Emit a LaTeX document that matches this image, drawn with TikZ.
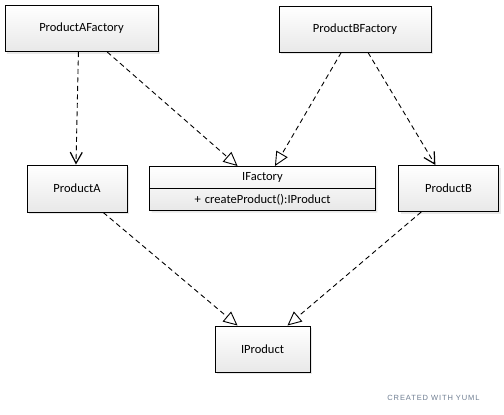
\documentclass[tikz,border=0pt]{standalone}
\usepackage{fontspec}
\setmainfont{Carlito}
\newfontfamily\creditfont[LetterSpace=12]{Liberation Sans}
\usetikzlibrary{arrows.meta,calc,shadows,shapes.multipart}
\definecolor{credit}{RGB}{110,125,145}

\begin{document}
\begin{tikzpicture}[x=1pt,y=-1pt,
  every node/.style={font=\fontsize{12.5}{14}\selectfont},
  cls/.style={draw,line width=1pt,top color=white,bottom color=black!9,
    drop shadow={opacity=0.18,shadow xshift=2pt,shadow yshift=-2pt}},
  dep/.style={draw,line width=0.9pt,dash pattern=on 5pt off 3.5pt},
  uses/.style={dep,-{Straight Barb[length=11pt,width=12pt,line width=1.2pt]}},
  impl/.style={dep,-{Triangle[open,fill=white,length=14pt,width=13pt,line width=0.9pt]}}]
\useasboundingbox (0,0) rectangle (504,415);
\node[cls,minimum width=153pt,minimum height=46pt] (paf) at (81.5,28.5) {ProductAFactory};
\node[cls,minimum width=152pt,minimum height=46pt] (pbf) at (355,29) {ProductBFactory};
\node[cls,minimum width=100pt,minimum height=47pt] (pa) at (77,188.5) {ProductA};
\node[cls,rectangle split,rectangle split parts=2,text width=219pt,align=center,
  inner ysep=5.3pt,anchor=north] (ifac) at (262.5,166)
  {IFactory\nodepart{two}+ createProduct():IProduct};
\node[cls,minimum width=100pt,minimum height=46pt] (pb) at (448.5,188.5) {ProductB};
\node[cls,minimum width=95pt,minimum height=46pt] (ip) at (262.5,349) {IProduct};
\node[anchor=east,text=credit,font=\creditfont\fontsize{7.5}{9}\selectfont] (yuml) at (483,398) {CREATED WITH YUML};
% dependencies
\draw[uses] ($(paf.south west)!0.48!(paf.south east)$) -- ($(pa.north west)!0.49!(pa.north east)$);
\draw[impl] ($(paf.south west)!0.667!(paf.south east)$) -- ($(ifac.north west)!0.39!(ifac.north east)$);
\draw[impl] ($(pbf.south west)!0.41!(pbf.south east)$) -- ($(ifac.north west)!0.555!(ifac.north east)$);
\draw[uses] ($(pbf.south west)!0.585!(pbf.south east)$) -- ($(pb.north west)!0.37!(pb.north east)$);
\draw[impl] ($(pa.south west)!0.76!(pa.south east)$) -- ($(ip.north west)!0.24!(ip.north east)$);
\draw[impl] ($(pb.south west)!0.23!(pb.south east)$) -- ($(ip.north west)!0.76!(ip.north east)$);
\end{tikzpicture}
\end{document}
